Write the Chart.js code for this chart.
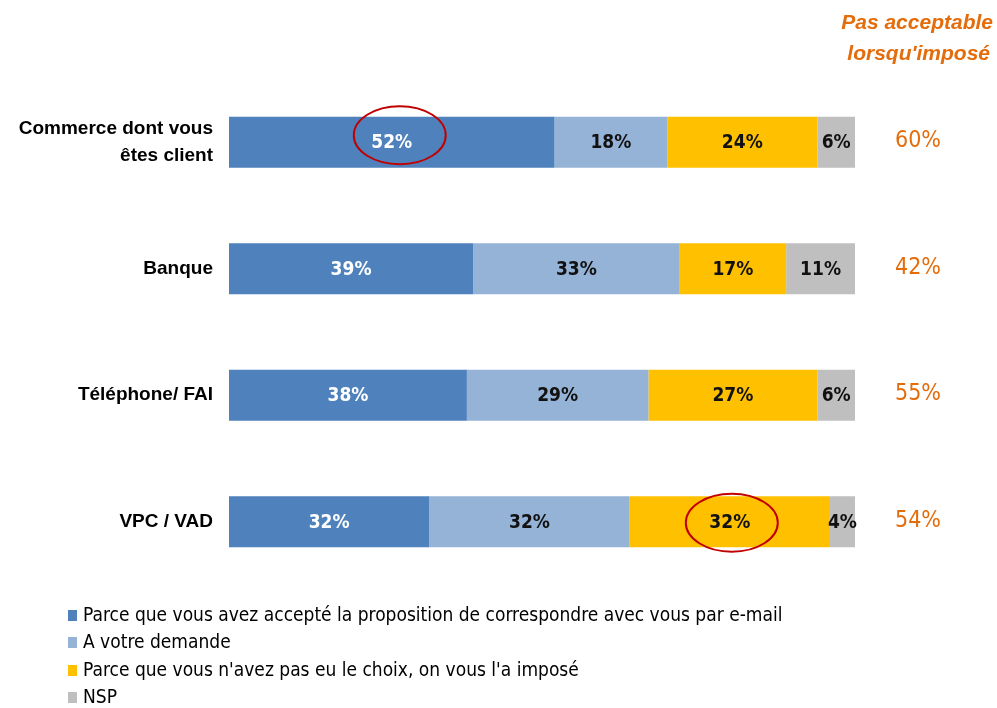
<!DOCTYPE html>
<html>
<head>
<meta charset="utf-8">
<script src="https://cdn.jsdelivr.net/npm/chart.js@4"></script>
<style>
  html, body { margin: 0; padding: 0; background: #fff; }
  #wrap { width: 997px; height: 708px; }
</style>
</head>
<body>
<div id="wrap"><canvas id="mailChart" width="997" height="708"></canvas></div>
<script>
// categories and series
const categories = [['Commerce dont vous', 'êtes client'], 'Banque', 'Téléphone/ FAI', 'VPC / VAD'];
const seriesLabels = [
  'Parce que vous avez accepté la proposition de correspondre avec vous par e-mail',
  'A votre demande',
  "Parce que vous n'avez pas eu le choix, on vous l'a imposé",
  'NSP'
];
const accepted = [52, 39, 38, 32];
const onRequest = [18, 33, 29, 32];
const imposed = [24, 17, 27, 32];
const nsp = [6, 11, 6, 4];
// right column
const headerLines = ['Pas acceptable', "lorsqu'imposé"];
const notAcceptable = [60, 42, 55, 54];
// circled values [dataset, index]
const circled = [[0, 0], [2, 3]];

// styles
const colors = ['#4F81BD', '#95B3D7', '#FFC000', '#BFBFBF'];
const labelColors = ['#ffffff', '#111111', '#111111', '#111111'];
const orange = '#E46C0A';
const narrow = "'Liberation Sans Narrow', 'DejaVu Sans Condensed', 'Liberation Sans', sans-serif";
const arial = "'Liberation Sans', Arial, sans-serif";
const ellipseNudge = [[8, -7], [2, 1]]; // the hand drawn circles are a bit off-centre

// Plugin: values inside bars + circles
const barLabels = {
  id: 'barLabels',
  afterDatasetsDraw(chart) {
    const ctx = chart.ctx;
    ctx.save();
    ctx.font = 'bold 19px ' + narrow;
    ctx.textAlign = 'center';
    ctx.textBaseline = 'middle';
    chart.data.datasets.forEach((ds, di) => {
      chart.getDatasetMeta(di).data.forEach((bar, i) => {
        const cx = (bar.x + bar.base) / 2;
        ctx.fillStyle = labelColors[di];
        ctx.fillText(ds.data[i] + '%', cx, bar.y + 1);
      });
    });
    // red ellipses
    ctx.strokeStyle = '#C00000';
    ctx.lineWidth = 2;
    circled.forEach(([di, i], k) => {
      const bar = chart.getDatasetMeta(di).data[i];
      const cx = (bar.x + bar.base) / 2 + ellipseNudge[k][0];
      ctx.beginPath();
      ctx.ellipse(cx, bar.y + ellipseNudge[k][1], 46, 29, 0, 0, Math.PI * 2);
      ctx.stroke();
    });
    ctx.restore();
  }
};

// Plugin: right column + legend
const extras = {
  id: 'extras',
  afterDraw(chart) {
    const ctx = chart.ctx;
    const yScale = chart.scales.y;
    ctx.save();
    // header
    ctx.fillStyle = orange;
    ctx.font = 'italic bold 21px ' + arial;
    ctx.textAlign = 'right';
    ctx.textBaseline = 'middle';
    ctx.fillText(headerLines[0], 993, 23);
    ctx.fillText(headerLines[1], 990, 54);
    // values
    ctx.font = '23px ' + narrow;
    ctx.textAlign = 'center';
    notAcceptable.forEach((v, i) => {
      ctx.fillText(v + '%', 918, yScale.getPixelForValue(i) - 1);
    });
    // legend
    ctx.font = '19px ' + narrow;
    ctx.textAlign = 'left';
    const legendY = [616, 643, 671, 698];
    chart.data.datasets.forEach((ds, di) => {
      ctx.fillStyle = ds.backgroundColor;
      ctx.fillRect(68, legendY[di] - 6, 9, 11);
      ctx.fillStyle = '#000';
      ctx.fillText(ds.label, 83, legendY[di]);
    });
    ctx.restore();
  }
};

const ctx = document.getElementById('mailChart').getContext('2d');
const myChart = new Chart(ctx, {
  type: 'bar',
  data: {
    labels: categories,
    datasets: [accepted, onRequest, imposed, nsp].map((d, i) => ({
      label: seriesLabels[i],
      data: d,
      backgroundColor: colors[i],
      borderWidth: 0,
      categoryPercentage: 1,
      barPercentage: 0.405
    }))
  },
  options: {
    indexAxis: 'y',
    responsive: false,
    animation: false,
    layout: { padding: { top: 79, bottom: 123, right: 142, left: 0 } },
    plugins: { legend: { display: false }, tooltip: { enabled: false } },
    scales: {
      x: { stacked: true, min: 0, max: 100, display: false },
      y: {
        stacked: true,
        grid: { display: false },
        border: { display: false },
        afterFit(scale) { scale.width = 229; },
        ticks: {
          padding: 8,
          color: '#000',
          font: { family: arial, size: 19, weight: 'bold', lineHeight: 1.45 }
        }
      }
    }
  },
  plugins: [barLabels, extras]
});
</script>
</body>
</html>
